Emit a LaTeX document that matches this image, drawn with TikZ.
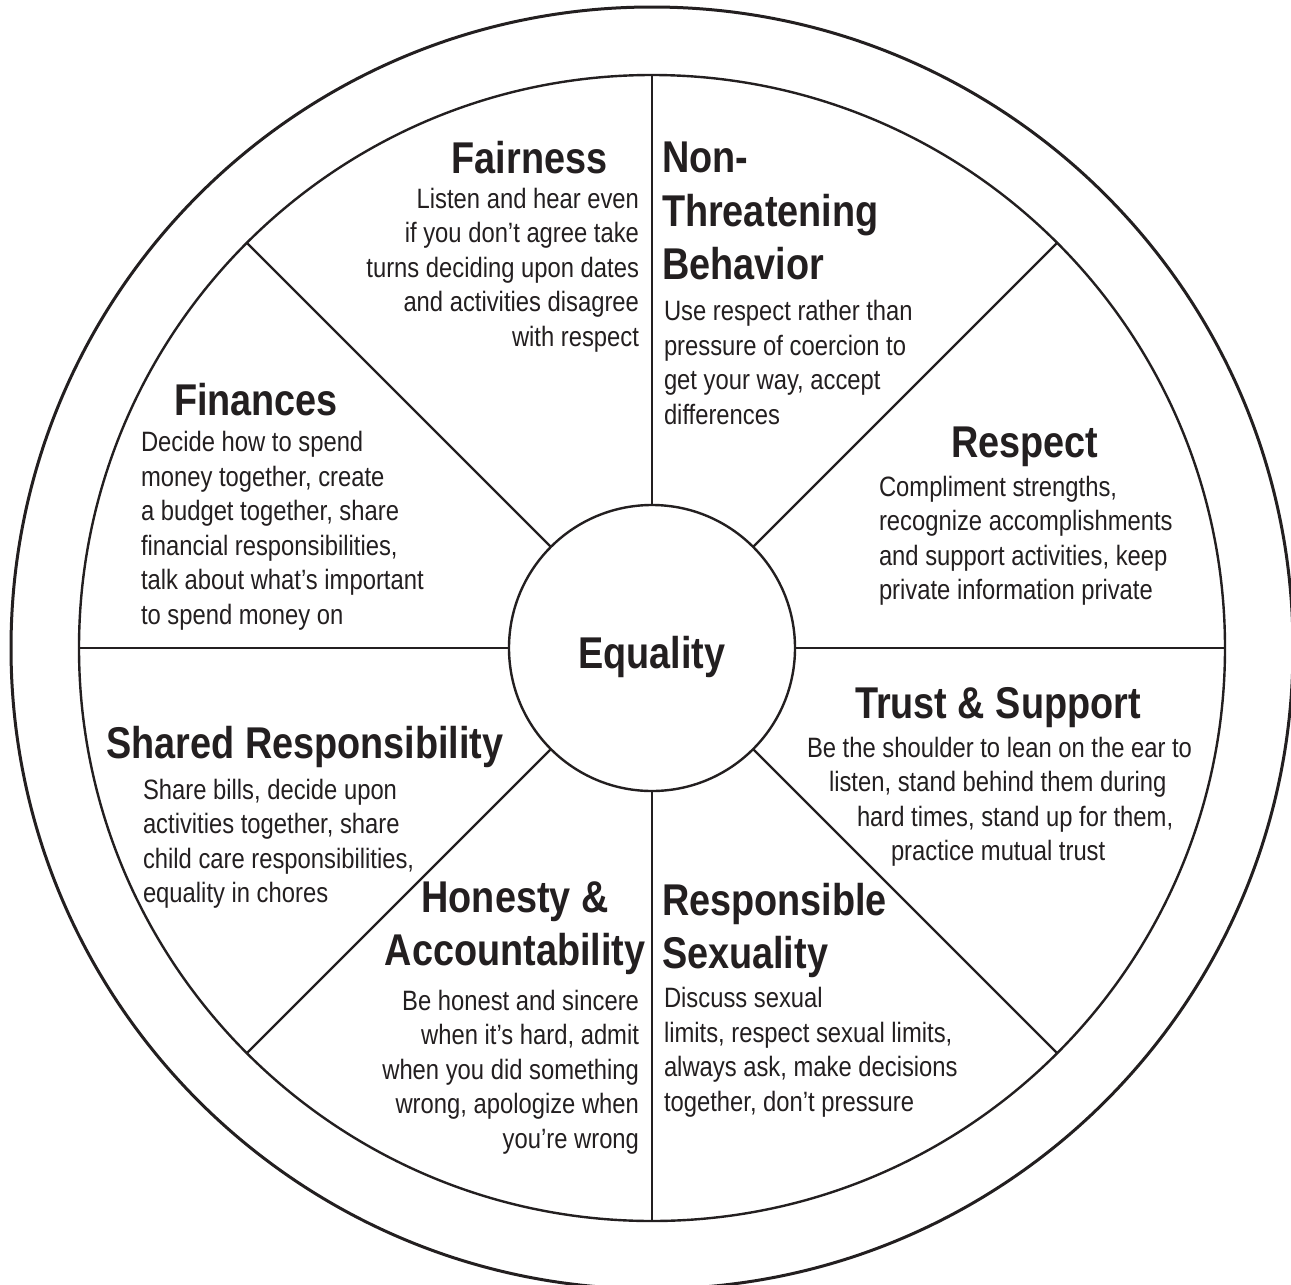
\documentclass[tikz,border=0pt]{standalone}
\usepackage{fontspec}
\setmainfont{Liberation Sans}[FakeStretch=0.85]
\usetikzlibrary{calc}
\definecolor{ink}{HTML}{231F20}
\tikzset{
  body/.style={font=\fontsize{28}{34.5}\selectfont, text=ink, inner sep=0pt, outer sep=0pt},
  head/.style={font=\bfseries\fontsize{44.5}{53}\selectfont, text=ink, inner sep=0pt, outer sep=0pt},
  outerring/.style={draw=ink, line width=3pt},
  innerring/.style={draw=ink, line width=2.4pt},
  spoke/.style={draw=ink, line width=2.4pt},
}
\newcommand\textlines[5]{%
  \foreach \t [count=\k] in {#5} {\node[body, anchor=#2] (#1-\k) at (#3, {#4+34.5*(\k-1)}) {\t};}%
}
\begin{document}
\begin{tikzpicture}[x=1pt, y=-1pt]
\fill[white] (0,0) rectangle (1291,1285);
\useasboundingbox (0,0) rectangle (1291,1285);

% hub
\node[circle, draw=ink, line width=2.4pt, minimum size=286pt, inner sep=0pt, outer sep=0pt] (hub) at (652,648) {};
\draw[outerring] (hub.center) circle[radius=641pt];
\draw[innerring] (hub.center) circle[radius=573pt];
\foreach \a in {0,45,...,315} {
  \coordinate (rim\a) at ($(hub.center)+(\a:573pt)$);
  \draw[spoke] (hub.\a) -- (rim\a);
}
\node[head, anchor=base] (eq) at (652,668) {Equality};

% Fairness
\node[head, anchor=base] (fairH) at (529.5,173) {Fairness};
\textlines{fair}{base east}{639}{208}{{Listen and hear even},{if you don’t agree take},{turns deciding upon dates},{and activities disagree},{with respect}}

% Non-Threatening Behavior
\node[head, anchor=base west] (nonH1) at (662,172) {Non-};
\node[head, anchor=base west] (nonH2) at (662,226) {Threatening};
\node[head, anchor=base west] (nonH3) at (662,279) {Behavior};
\textlines{non}{base west}{664}{320.5}{{Use respect rather than},{pressure of coercion to},{get your way, accept},{differences}}

% Finances
\node[head, anchor=base west] (finH) at (174,415) {Finances};
\textlines{fin}{base west}{141}{451.5}{{Decide how to spend},{money together, create},{a budget together, share},{financial responsibilities,},{talk about what’s important},{to spend money on}}

% Respect
\node[head, anchor=base west] (resH) at (951,457) {Respect};
\textlines{res}{base west}{879}{496}{{Compliment strengths,},{recognize accomplishments},{and support activities, keep},{private information private}}

% Trust & Support
\node[head, anchor=base west] (truH) at (855,718) {Trust \& Support};
\node[body, anchor=base west] (tru-1) at (807,757) {Be the shoulder to lean on the ear to};
\node[body, anchor=base west] (tru-2) at (829,791.5) {listen, stand behind them during};
\node[body, anchor=base west] (tru-3) at (857,826) {hard times, stand up for them,};
\node[body, anchor=base west] (tru-4) at (891,860.5) {practice mutual trust};

% Shared Responsibility
\node[head, anchor=base] (shaH) at (305,758) {Shared Responsibility};
\textlines{sha}{base west}{143}{799}{{Share bills, decide upon},{activities together, share},{child care responsibilities,},{equality in chores}}

% Honesty & Accountability
\node[head, anchor=base] (honH1) at (515,912) {Honesty \&};
\node[head, anchor=base] (honH2) at (515,965) {Accountability};
\textlines{hon}{base east}{639}{1010}{{Be honest and sincere},{when it’s hard, admit},{when you did something},{wrong, apologize when},{you’re wrong}}

% Responsible Sexuality
\node[head, anchor=base west] (sexH1) at (662,915) {Responsible};
\node[head, anchor=base west] (sexH2) at (662,968) {Sexuality};
\textlines{sex}{base west}{664}{1007.5}{{Discuss sexual},{limits, respect sexual limits,},{always ask, make decisions},{together, don’t pressure}}
\end{tikzpicture}
\end{document}
